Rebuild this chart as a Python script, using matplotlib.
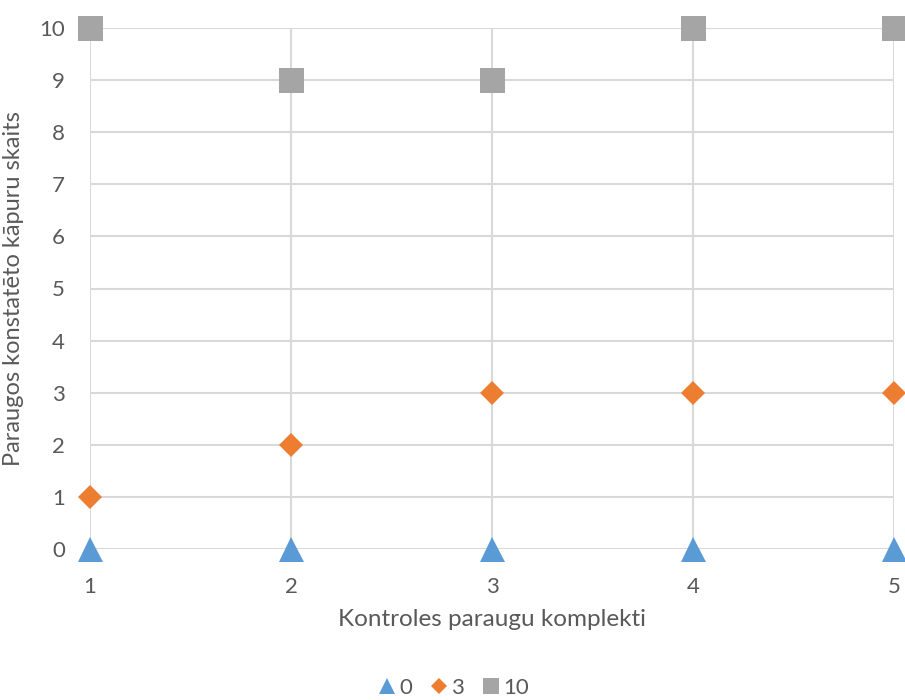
import matplotlib
matplotlib.use("Agg")
import matplotlib.pyplot as plt

# control sample sets and larvae counts per dose group
komplekti = [1, 2, 3, 4, 5]
serija_0 = [0, 0, 0, 0, 0]
serija_3 = [1, 2, 3, 3, 3]
serija_10 = [10, 9, 9, 10, 10]
nosaukumi = ["0", "3", "10"]

plt.rcParams["font.family"] = ["Lato", "DejaVu Sans"]
teksts = "#595959"
rezga = "#D9D9D9"

fig = plt.figure(figsize=(9.05, 7.0), dpi=100)
ax = fig.add_axes([90 / 905, 151 / 700, 804 / 905, 521 / 700])

ax.plot(komplekti, serija_0, "^", color="#5B9BD5", markersize=18, mew=0,
        clip_on=False, zorder=3, label=nosaukumi[0])
ax.plot(komplekti, serija_3, "D", color="#ED7D31", markersize=12.5, mew=0,
        clip_on=False, zorder=3, label=nosaukumi[1])
ax.plot(komplekti, serija_10, "s", color="#A5A5A5", markersize=18, mew=0,
        clip_on=False, zorder=3, label=nosaukumi[2])

ax.set_xlim(1, 5)
ax.set_ylim(0, 10)
ax.set_xticks(komplekti)
ax.set_yticks(range(0, 11))
ax.grid(True, color=rezga, linewidth=1.5)
ax.set_axisbelow(True)
for s in ax.spines.values():
    s.set_visible(False)
ax.tick_params(length=0, labelsize=16, colors=teksts)
ax.tick_params(axis="x", pad=20)
ax.tick_params(axis="y", pad=18)

ax.set_xlabel("Kontroles paraugu komplekti", fontsize=17.5, color=teksts, labelpad=9)
ax.set_ylabel("Paraugos konstatēto kāpuru skaits", fontsize=17, color=teksts, labelpad=11)

fig.legend(loc="lower center", bbox_to_anchor=(0.5, -0.026), ncol=3, frameon=False,
           fontsize=16, labelcolor=teksts, handletextpad=0.05, columnspacing=0.7,
           handlelength=1.0, markerscale=0.62)

fig.savefig("out.png", dpi=100)
